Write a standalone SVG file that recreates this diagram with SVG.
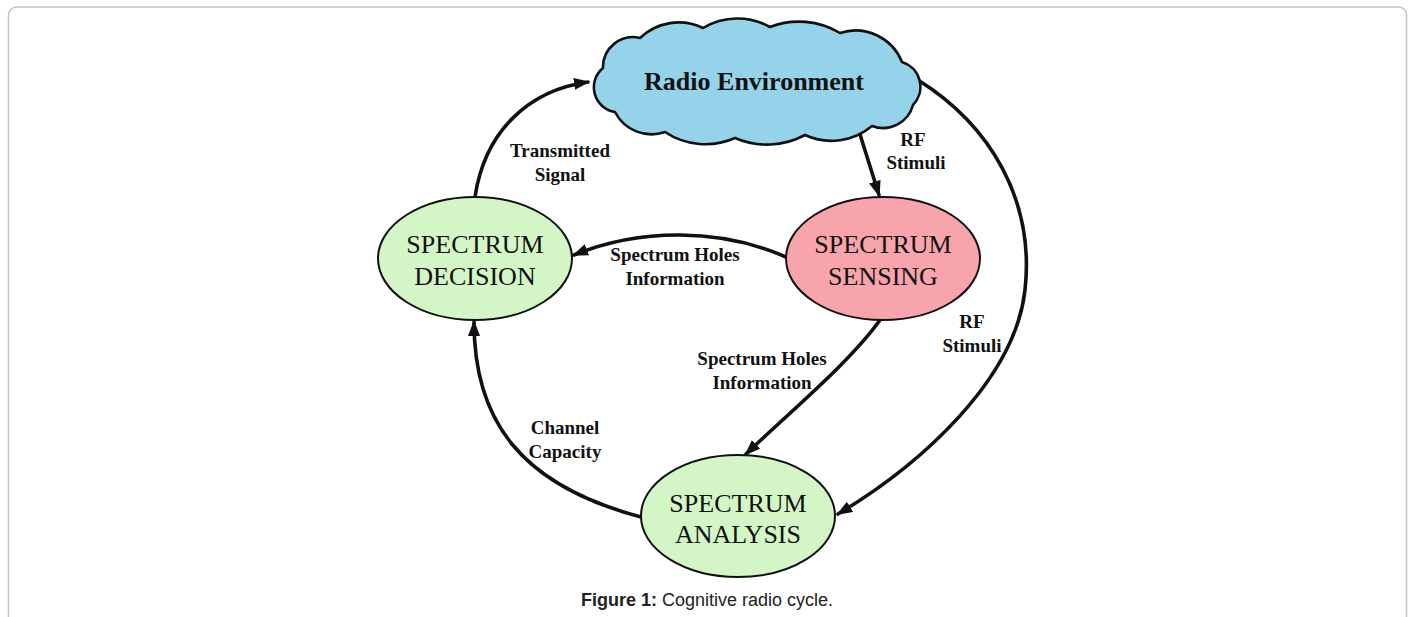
<svg xmlns="http://www.w3.org/2000/svg" width="1413" height="617" viewBox="0 0 1413 617">
  <style>
    .frame { fill: #ffffff; stroke: #c4c4c4; stroke-width: 1.5; }
    .node { stroke: #111; stroke-width: 2; }
    .green { fill: #d4f6c6; }
    .pink { fill: #f8a4ad; }
    .cloud { fill: #94d3e9; stroke: #111; stroke-width: 2.6; stroke-linejoin: round; }
    .ntext { font-family: "Liberation Serif", "Times New Roman", serif; font-size: 26px; fill: #111; text-anchor: middle; }
    .title { font-family: "Liberation Serif", "Times New Roman", serif; font-size: 26px; font-weight: bold; fill: #111; text-anchor: middle; }
    .label { font-family: "Liberation Serif", "Times New Roman", serif; font-size: 19px; font-weight: bold; fill: #111; text-anchor: middle; }
    .edge { fill: none; stroke: #111; stroke-width: 3.6; stroke-linecap: round; }
    .caption { font-family: "Liberation Sans", Arial, sans-serif; font-size: 18px; fill: #222; text-anchor: middle; }
  </style>
  <defs>
    <marker id="arrow" markerUnits="userSpaceOnUse" viewBox="0 0 16 12" refX="14" refY="6" markerWidth="16" markerHeight="12" orient="auto">
      <path d="M0,0 L16,6 L0,12 z" fill="#111"/>
    </marker>
  </defs>

  <!-- page frame, open at the bottom -->
  <rect class="frame" x="8.5" y="7" width="1398" height="660" rx="8"/>

  <!-- connectors -->
  <g id="connectors">
    <path class="edge" d="M475,197 C485,130 530,90 588,82" marker-end="url(#arrow)"/>
    <path class="edge" d="M858,128 L879,195" marker-end="url(#arrow)"/>
    <path class="edge" d="M786,257 C720,228 640,228 574,255" marker-end="url(#arrow)"/>
    <path class="edge" d="M880,320 C850,362 792,410 746,454" marker-end="url(#arrow)"/>
    <path class="edge" d="M918,80 C990,125 1035,200 1025,290 C1015,380 920,465 838,514" marker-end="url(#arrow)"/>
    <path class="edge" d="M641,517 C520,485 474,420 474,322" marker-end="url(#arrow)"/>
  </g>

  <!-- connector labels -->
  <g id="labels">
    <text class="label" x="560" y="157">Transmitted</text>
    <text class="label" x="560" y="181">Signal</text>
    <text class="label" x="913" y="146">RF</text>
    <text class="label" x="916" y="169">Stimuli</text>
    <text class="label" x="675" y="261">Spectrum Holes</text>
    <text class="label" x="675" y="285">Information</text>
    <text class="label" x="972" y="328">RF</text>
    <text class="label" x="972" y="352">Stimuli</text>
    <text class="label" x="762" y="365">Spectrum Holes</text>
    <text class="label" x="762" y="389">Information</text>
    <text class="label" x="565" y="434">Channel</text>
    <text class="label" x="565" y="458">Capacity</text>
  </g>

  <!-- radio environment cloud -->
  <g id="radio-environment">
    <path class="cloud" d="M603,68
      A30,30 0 0 1 640,38
      A56,56 0 0 1 703,28
      A67,67 0 0 1 770,27
      A80,80 0 0 1 840,33
      A50,50 0 0 1 902,62
      A26,26 0 0 1 913,105
      A31,31 0 0 1 872,126
      A63,63 0 0 1 805,135
      A80,80 0 0 1 735,138
      A73,73 0 0 1 665,132
      A41,41 0 0 1 615,112
      A25,25 0 0 1 603,68 z"/>
    <text class="title" x="754" y="90">Radio Environment</text>
  </g>

  <g id="spectrum-decision">
    <ellipse class="node green" cx="475" cy="258.5" rx="97" ry="61.5"/>
    <text class="ntext" x="475" y="253">SPECTRUM</text>
    <text class="ntext" x="475" y="285">DECISION</text>
  </g>

  <g id="spectrum-sensing">
    <ellipse class="node pink" cx="883" cy="258.5" rx="97" ry="61.5"/>
    <text class="ntext" x="883" y="253">SPECTRUM</text>
    <text class="ntext" x="883" y="285">SENSING</text>
  </g>

  <g id="spectrum-analysis">
    <ellipse class="node green" cx="738" cy="516" rx="97" ry="61"/>
    <text class="ntext" x="738" y="512">SPECTRUM</text>
    <text class="ntext" x="738" y="543">ANALYSIS</text>
  </g>

  <text class="caption" x="707" y="606"><tspan font-weight="bold">Figure 1:</tspan> Cognitive radio cycle.</text>
</svg>
